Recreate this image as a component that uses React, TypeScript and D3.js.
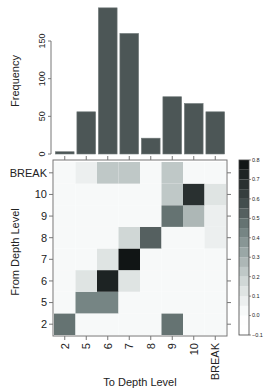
import React, { useEffect, useRef } from "react";
import * as d3 from "d3";

// depth levels (columns = "to", rows = "from")
const levels = ["2", "5", "6", "7", "8", "9", "10", "BREAK"];
const frequency = [3, 56, 194, 160, 21, 76, 67, 56];
const freqTicks = [0, 50, 100, 150];

// transition proportions, one array per "from" level, columns in `levels` order
const from2 = [0.5, 0, 0, 0, 0, 0.5, 0, 0];
const from5 = [0, 0.42, 0.4, 0.03, 0, 0, 0, 0.05];
const from6 = [0, 0.1, 0.72, 0.1, 0, 0.02, 0, 0.05];
const from7 = [0, 0, 0.1, 0.82, 0.02, 0.03, 0.03, 0.05];
const from8 = [0, 0, 0.02, 0.17, 0.52, 0.05, 0, 0.08];
const from9 = [0, 0, 0.05, 0, 0.02, 0.5, 0.27, 0.08];
const from10 = [0, 0, 0.02, 0, 0.02, 0.22, 0.66, 0.15];
const fromBreak = [0.02, 0.06, 0.22, 0.22, 0.05, 0.22, 0.05, 0.0];
const matrix = [from2, from5, from6, from7, from8, from9, from10, fromBreak];

const colorTicks = [-0.1, 0.0, 0.1, 0.2, 0.3, 0.4, 0.5, 0.6, 0.7, 0.8];

const App: React.FC = () => {
  const svgRef = useRef<SVGSVGElement | null>(null);

  useEffect(() => {
    const svg = d3.select(svgRef.current);
    svg.selectAll("*").remove();
    const font = "Liberation Sans, Arial, sans-serif";
    const ink = "#222";
    const axisGray = "#777";

    svg.append("rect").attr("width", 266).attr("height", 390).attr("fill", "white");

    // panel geometry
    const left = 53;
    const right = 227;
    const hmTop = 160;
    const hmBottom = 336;
    const barBase = 154;

    const xBand = d3.scaleBand<string>().domain(levels).range([left + 1, right - 1]);
    const yBand = d3
      .scaleBand<string>()
      .domain(levels)
      .range([hmBottom - 1, hmTop + 2]);

    // colour ramp, quantised into 0.05 bands
    const ramp = d3
      .scaleLinear<string>()
      .domain([-0.1, 0.0, 0.1, 0.2, 0.4, 0.6, 0.8])
      .range(["#ffffff", "#fdfefe", "#e6eaea", "#c8d0cf", "#7f8e8d", "#3b4545", "#0b0e0e"]);
    const nBands = 18;
    const bandColors = d3.range(nBands).map((i) => ramp(-0.1 + (i + 0.5) * 0.05));
    const color = d3.scaleQuantize<string>().domain([-0.1, 0.8]).range(bandColors);

    // ---- bar chart ----
    const yFreq = d3.scaleLinear().domain([0, 150]).range([barBase, 41]);
    const barX = d3
      .scaleBand<string>()
      .domain(levels)
      .range([left + 1, right - 1])
      .paddingInner(0.13)
      .paddingOuter(0.065);

    svg
      .append("g")
      .selectAll("rect")
      .data(frequency)
      .enter()
      .append("rect")
      .attr("x", (_d, i) => barX(levels[i])!)
      .attr("y", (d) => yFreq(d))
      .attr("width", barX.bandwidth())
      .attr("height", (d) => barBase - yFreq(d))
      .attr("fill", "#4c5656")
      .attr("stroke", "#6f7878")
      .attr("stroke-width", 0.6);

    const freqAxis = svg.append("g").attr("transform", `translate(51,0)`);
    freqAxis
      .append("line")
      .attr("y1", yFreq(0))
      .attr("y2", yFreq(150))
      .attr("stroke", axisGray);
    freqTicks.forEach((t) => {
      freqAxis
        .append("line")
        .attr("x1", -3)
        .attr("x2", 0)
        .attr("y1", yFreq(t))
        .attr("y2", yFreq(t))
        .attr("stroke", axisGray);
      freqAxis
        .append("text")
        .attr("transform", `translate(-6,${yFreq(t)}) rotate(-90)`)
        .attr("text-anchor", "middle")
        .style("font-family", font)
        .style("font-size", "9px")
        .attr("fill", ink)
        .text(t);
    });

    svg
      .append("text")
      .attr("transform", `translate(19,81) rotate(-90)`)
      .attr("text-anchor", "middle")
      .style("font-family", font)
      .style("font-size", "11px")
      .attr("fill", ink)
      .text("Frequency");

    // ---- heatmap ----
    const cells = svg.append("g");
    matrix.forEach((row, ri) => {
      row.forEach((v, ci) => {
        cells
          .append("rect")
          .attr("x", xBand(levels[ci])!)
          .attr("y", yBand(levels[ri])!)
          .attr("width", xBand.bandwidth())
          .attr("height", yBand.bandwidth())
          .attr("fill", color(v));
      });
    });

    svg
      .append("rect")
      .attr("x", left)
      .attr("y", hmTop)
      .attr("width", right - left)
      .attr("height", hmBottom - hmTop)
      .attr("fill", "none")
      .attr("stroke", axisGray)
      .attr("stroke-width", 1);

    const ticks = svg.append("g").attr("stroke", axisGray);
    levels.forEach((lv) => {
      const cx = xBand(lv)! + xBand.bandwidth() / 2;
      const cy = yBand(lv)! + yBand.bandwidth() / 2;
      ticks.append("line").attr("x1", cx).attr("x2", cx).attr("y1", hmTop - 4).attr("y2", hmTop);
      ticks.append("line").attr("x1", cx).attr("x2", cx).attr("y1", hmBottom).attr("y2", hmBottom + 4);
      ticks.append("line").attr("x1", left - 4).attr("x2", left).attr("y1", cy).attr("y2", cy);
      ticks.append("line").attr("x1", right).attr("x2", right + 4).attr("y1", cy).attr("y2", cy);
    });

    svg
      .append("g")
      .selectAll("text")
      .data(levels)
      .enter()
      .append("text")
      .attr("x", 47)
      .attr("y", (d) => yBand(d)! + yBand.bandwidth() / 2)
      .attr("dy", "0.35em")
      .attr("text-anchor", "end")
      .style("font-family", font)
      .style("font-size", "11px")
      .attr("fill", ink)
      .text((d) => d);

    svg
      .append("g")
      .selectAll("text")
      .data(levels)
      .enter()
      .append("text")
      .attr(
        "transform",
        (d) => `translate(${xBand(d)! + xBand.bandwidth() / 2},343) rotate(-90)`
      )
      .attr("dy", "0.35em")
      .attr("text-anchor", "end")
      .style("font-family", font)
      .style("font-size", "11px")
      .attr("fill", ink)
      .text((d) => d);

    svg
      .append("text")
      .attr("transform", `translate(19,252) rotate(-90)`)
      .attr("text-anchor", "middle")
      .style("font-family", font)
      .style("font-size", "11px")
      .attr("fill", ink)
      .text("From Depth Level");

    svg
      .append("text")
      .attr("x", 140)
      .attr("y", 386)
      .attr("text-anchor", "middle")
      .style("font-family", font)
      .style("font-size", "11px")
      .attr("fill", ink)
      .text("To Depth Level");

    // ---- colour key ----
    const keyX = 239;
    const keyW = 10;
    const yKey = d3.scaleLinear().domain([-0.1, 0.8]).range([335, 160]);
    svg
      .append("g")
      .selectAll("rect")
      .data(bandColors)
      .enter()
      .append("rect")
      .attr("x", keyX)
      .attr("y", (_d, i) => yKey(-0.1 + (i + 1) * 0.05))
      .attr("width", keyW)
      .attr("height", (_d, i) => yKey(-0.1 + i * 0.05) - yKey(-0.1 + (i + 1) * 0.05))
      .attr("fill", (d) => d);
    svg
      .append("rect")
      .attr("x", keyX)
      .attr("y", 160)
      .attr("width", keyW)
      .attr("height", 175)
      .attr("fill", "none")
      .attr("stroke", "#444")
      .attr("stroke-width", 0.8);
    colorTicks.forEach((t) => {
      svg
        .append("line")
        .attr("x1", keyX + keyW)
        .attr("x2", keyX + keyW + 2)
        .attr("y1", yKey(t))
        .attr("y2", yKey(t))
        .attr("stroke", "#444")
        .attr("stroke-width", 0.6);
      svg
        .append("text")
        .attr("x", keyX + keyW + 3)
        .attr("y", yKey(t))
        .attr("dy", "0.35em")
        .style("font-family", font)
        .style("font-size", "5.5px")
        .attr("fill", ink)
        .text(t === 0 ? "0.0" : t < 0 ? "\u22120.1" : t.toFixed(1));
    });
  }, []);

  return (
    <svg
      ref={svgRef}
      width={266}
      height={390}
      style={{ position: "absolute", left: 0, top: 0, display: "block" }}
    ></svg>
  );
};

export default App;
